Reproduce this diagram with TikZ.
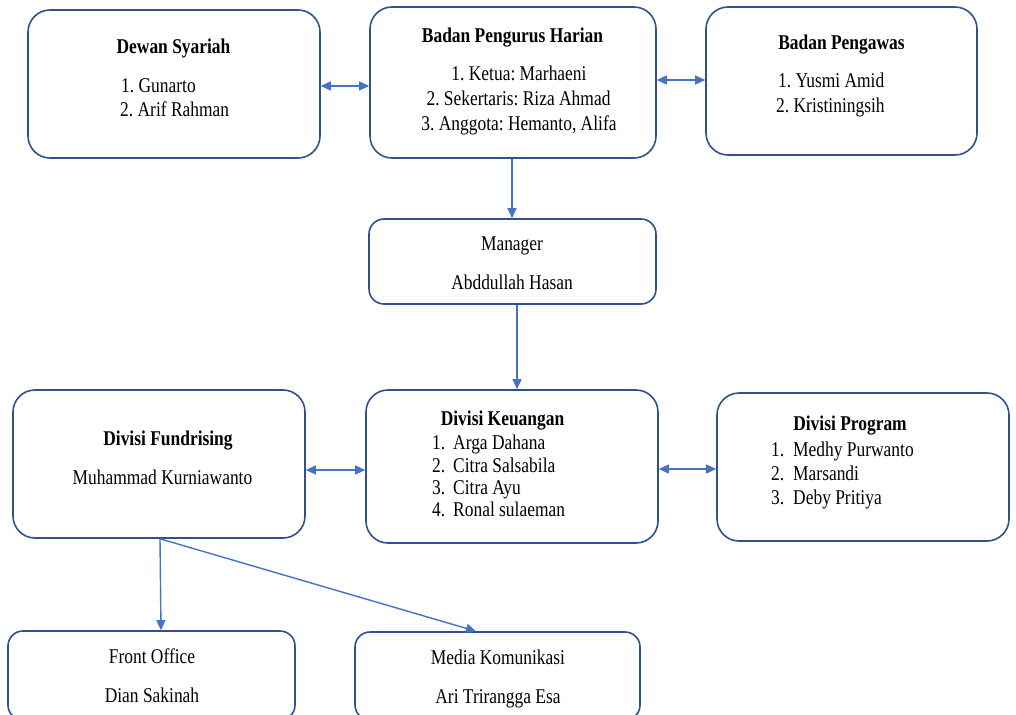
\documentclass[tikz,border=0pt]{standalone}
\usepackage{fontspec}
\setmainfont{Liberation Serif}[FakeStretch=0.83]
\usetikzlibrary{arrows.meta}
\definecolor{boxline}{HTML}{2F528F}
\definecolor{arrowblue}{HTML}{4472C4}
\tikzset{
  box/.style={draw=boxline, line width=1.6pt, fill=white, rounded corners=22pt, inner sep=0pt},
  smallbox/.style={box, rounded corners=15pt},
  txt/.style={inner sep=0pt, anchor=mid, yshift=-5pt, font=\fontsize{21}{24}\selectfont},
  ttl/.style={txt, font=\fontsize{21}{24}\selectfont\bfseries},
  item/.style={txt, anchor=mid west},
  conn/.style={draw=arrowblue, line width=1.4pt, -{Triangle[length=10pt,width=9pt]}},
  biconn/.style={draw=arrowblue, line width=1.4pt, {Triangle[length=10pt,width=9pt]}-{Triangle[length=10pt,width=9pt]}},
}
\begin{document}
\frenchspacing
\begin{tikzpicture}[x=1pt,y=-1pt]
\useasboundingbox (0,0) rectangle (1016,714);
\clip (0,0) rectangle (1016,714);
% boxes
\node[box, minimum width=292pt, minimum height=148pt] (ds) at (174,84) {};
\node[box, minimum width=286pt, minimum height=151pt] (bph) at (513,82.5) {};
\node[box, minimum width=271pt, minimum height=148pt] (bp) at (841.5,81) {};
\node[smallbox, minimum width=287pt, minimum height=85pt] (mgr) at (512.5,261.5) {};
\node[box, minimum width=292pt, minimum height=148pt] (df) at (159,464) {};
\node[box, minimum width=292pt, minimum height=153pt] (dk) at (512,466.5) {};
\node[box, minimum width=292pt, minimum height=148pt] (dp) at (863,467) {};
\node[smallbox, minimum width=287pt, minimum height=89pt] (fo) at (151.5,675.5) {};
\node[smallbox, minimum width=285pt, minimum height=88pt] (mk) at (497.5,676) {};
% Dewan Syariah
\node[ttl] (dsT) at (173.5,46) {Dewan Syariah};
\node[item] (ds1) at (121,85) {1. Gunarto};
\node[item] (ds2) at (120,109) {2. Arif Rahman};
% Badan Pengurus Harian
\node[ttl] (bphT) at (512.5,35) {Badan Pengurus Harian};
\node[txt] (bph1) at (519,73) {1. Ketua: Marhaeni};
\node[txt] (bph2) at (518.5,98) {2. Sekertaris: Riza Ahmad};
\node[txt] (bph3) at (519,123) {3. Anggota: Hemanto, Alifa};
% Badan Pengawas
\node[ttl] (bpT) at (841.5,42) {Badan Pengawas};
\node[item] (bp1) at (778,80) {1. Yusmi Amid};
\node[item] (bp2) at (776,105) {2. Kristiningsih};
% Manager
\node[txt] (mgrT) at (512,243) {Manager};
\node[txt] (mgrN) at (512,282) {Abddullah Hasan};
% Fundrising
\node[ttl] (dfT) at (168,438) {Divisi Fundrising};
\node[txt] (dfN) at (162.5,477) {Muhammad Kurniawanto};
% Keuangan
\node[ttl] (dkT) at (502.5,418) {Divisi Keuangan};
\node[item] (dk1n) at (432,442) {1.};
\node[item] (dk1) at (453,442) {Arga Dahana};
\node[item] (dk2n) at (432,465) {2.};
\node[item] (dk2) at (453,465) {Citra Salsabila};
\node[item] (dk3n) at (432,487) {3.};
\node[item] (dk3) at (453,487) {Citra Ayu};
\node[item] (dk4n) at (432,509) {4.};
\node[item] (dk4) at (453,509) {Ronal sulaeman};
% Program
\node[ttl] (dpT) at (850,423) {Divisi Program};
\node[item] (dp1n) at (771,449) {1.};
\node[item] (dp1) at (793,449) {Medhy Purwanto};
\node[item] (dp2n) at (771,473) {2.};
\node[item] (dp2) at (793,473) {Marsandi};
\node[item] (dp3n) at (771,497) {3.};
\node[item] (dp3) at (793,497) {Deby Pritiya};
% Front Office / Media
\node[txt] (foT) at (152,656) {Front Office};
\node[txt] (foN) at (152,695) {Dian Sakinah};
\node[txt] (mkT) at (498,657) {Media Komunikasi};
\node[txt] (mkN) at (498,696) {Ari Trirangga Esa};
% connectors
\draw[biconn] (ds.east |- 0,86) -- (bph.west |- 0,86);
\draw[biconn] (bph.east |- 0,80) -- (bp.west |- 0,80);
\draw[conn] (bph.south -| 512,0) -- (mgr.north -| 512,0);
\draw[conn] (mgr.south -| 517,0) -- (dk.north -| 517,0);
\draw[biconn] (df.east |- 0,470) -- (dk.west |- 0,470);
\draw[biconn] (dk.east |- 0,469) -- (dp.west |- 0,469);
\coordinate (split) at (df.south -| 160,0);
\draw[conn] (split) -- (fo.north -| 161,0);
\draw[conn] (split) -- (mk.north -| 476,0);
\end{tikzpicture}
\end{document}
